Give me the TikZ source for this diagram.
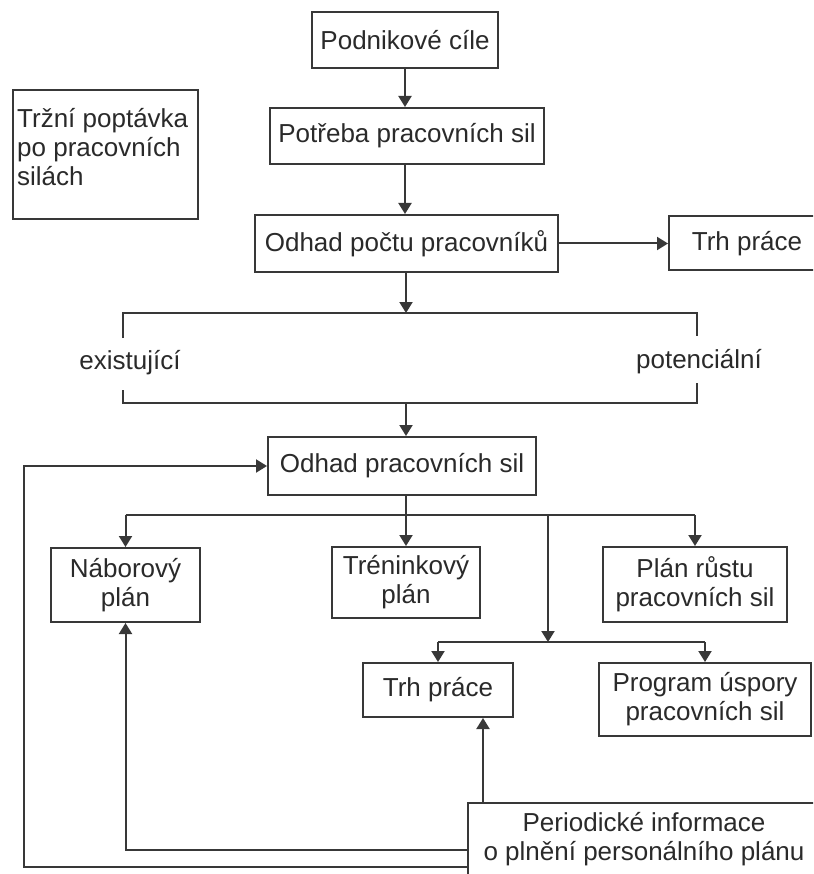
\documentclass[tikz,border=0pt]{standalone}
\usepackage{fontspec}
\setmainfont{Liberation Sans}
\usetikzlibrary{arrows.meta}
\definecolor{ink}{HTML}{2A2A2A}
\definecolor{edge}{HTML}{383838}
\begin{document}
\begin{tikzpicture}[x=1pt,y=-1pt,
  every node/.style={font=\fontsize{26}{29}\selectfont, text=ink},
  box/.style={draw=edge, line width=2pt, rectangle, inner sep=0pt, align=center},
  conn/.style={draw=edge, line width=2pt},
  arr/.style={conn, -{Triangle[length=11pt,width=13pt]}}]
\clip (0,0) rectangle (813,874);
\fill[white] (0,0) rectangle (813,874);

% main chain
\node[box, minimum width=186pt, minimum height=56pt] (pc) at (405,40) {Podnikové cíle};
\node[box, minimum width=274pt, minimum height=56pt] (pps) at (407,136) {Potřeba pracovních sil};
\node[box, minimum width=303pt, minimum height=57pt] (opp) at (406.5,243.5) {Odhad počtu pracovníků};
\node[box, minimum width=156pt, minimum height=54pt] (trhA) at (747,243.5) {Trh práce};

% side box
\node[box, minimum width=185pt, minimum height=129pt, anchor=north west] (tpp) at (12,89) {};
\node[anchor=north west, align=left, inner sep=0pt] (tpptext) at (17,108) {Tržní poptávka\\po pracovních\\silách};

% bracket of existing / potential workforce
\coordinate (bTL) at (123,313);
\coordinate (bTR) at (697,313);
\coordinate (bTop) at (406,313);
\coordinate (bBL) at (123,403);
\coordinate (bBR) at (697,403);
\coordinate (bBot) at (406,403);
\node[inner sep=0pt] (exi) at (130,363) {existující};
\node[inner sep=0pt] (pot) at (699,362) {potenciální};
\draw[conn] (123,338) -- (bTL) -- (bTR) -- (697,336);
\draw[conn] (123,390) -- (bBL) -- (bBR) -- (697,383);

\node[box, minimum width=268pt, minimum height=58pt] (opd) at (402,466) {Odhad pracovních sil};

% plans
\node[box, minimum width=149pt, minimum height=74pt] (nab) at (125.5,585) {Náborový\\plán};
\node[box, minimum width=148pt, minimum height=71pt] (tren) at (406,582.5) {Tréninkový\\plán};
\node[box, minimum width=184pt, minimum height=75pt] (plr) at (695,584.5) {Plán růstu\\pracovních sil};
\node[box, minimum width=150pt, minimum height=54pt] (trhB) at (438,690) {Trh práce};
\node[box, minimum width=212pt, minimum height=73pt] (pus) at (705,699.5) {Program úspory\\pracovních sil};
\node[box, minimum width=352pt, minimum height=73pt] (per) at (644,839.5) {Periodické informace\\o plnění personálního plánu};

% chain arrows
\draw[arr] (pc) -- (pc.south |- pps.north);
\draw[arr] (pps.south -| pc.south) -- (pc.south |- opp.north);
\draw[arr] (opp) -- (trhA);
\draw[arr] (opp.south -| bTop) -- (bTop);
\draw[arr] (bBot) -- (bBot |- opd.north);

% distribution below the estimate
\coordinate (dJ) at (406,515);
\coordinate (dL) at (125.5,515);
\coordinate (dR) at (695,515);
\coordinate (dM) at (548,515);
\coordinate (eJ) at (548,642);
\coordinate (eL) at (438,642);
\coordinate (eR) at (705,642);
\draw[conn] (dJ |- opd.south) -- (dJ);
\draw[conn] (dL) -- (dR);
\draw[arr] (dL) -- (nab);
\draw[arr] (dJ) -- (tren);
\draw[arr] (dR) -- (plr);
\draw[arr] (dM) -- (eJ);
\draw[conn] (eL) -- (eR);
\draw[arr] (eL) -- (trhB);
\draw[arr] (eR) -- (pus);

% feedback from periodic information
\coordinate (pUp) at (483,803);
\draw[arr] (pUp) -- (pUp |- trhB.south);
\coordinate (fbIn) at (125.5,850);
\draw[arr] (per.west |- fbIn) -- (fbIn) -- (nab);
\coordinate (fbOut) at (24,867);
\draw[arr] (per.west |- fbOut) -- (fbOut) |- (opd.west);
\end{tikzpicture}
\end{document}
